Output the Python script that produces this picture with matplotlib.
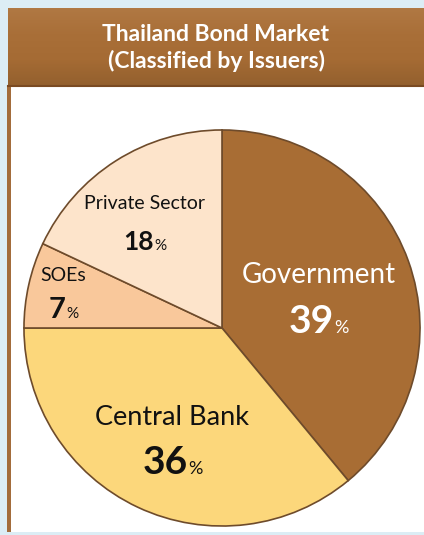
import numpy as np
import matplotlib
matplotlib.use('Agg')
import matplotlib.pyplot as plt
from matplotlib.patches import Rectangle
from matplotlib.offsetbox import TextArea, HPacker, AnnotationBbox

plt.rcParams['font.family'] = ['Lato', 'DejaVu Sans']

# issuer shares, clockwise from 12 o'clock
issuers = ['Government', 'Central Bank', 'SOEs', 'Private Sector']
shares = [39, 36, 7, 18]
colors = ['#a86d34', '#fcd77b', '#f9c89b', '#fde4cb']
label_colors = ['white', '#111111', '#111111', '#111111']
title = 'Thailand Bond Market\n(Classified by Issuers)'

# label styling / placement inside each wedge
name_sizes = [20, 19.5, 14, 14]
num_sizes = [28, 28, 21, 19]
pct_sizes = [13, 13, 11, 11]
label_radius = [0.512, 0.618, 0.82, 0.66]
label_nudge = [-2.8, 1.3, 0.0, 3.8]      # degrees off the wedge mid-angle
half_gap = [16.5, 16.2, 12.4, 14.0]      # points between name / number centres and anchor

W, H = 424, 535
fig = plt.figure(figsize=(W / 100, H / 100), dpi=100)
fig.patch.set_facecolor('#dcedf5')

# frame: header strip, white panel, brown left rule
bg = fig.add_axes([0, 0, 1, 1])
bg.axis('off')
bg.add_patch(Rectangle((8, 86), W - 8, H - 89, facecolor='white', edgecolor='none'))
bg.add_patch(Rectangle((7, 86), 4, H - 89, facecolor='#a36c3b', edgecolor='none'))
grad = np.linspace(0, 1, 64).reshape(-1, 1)
hdr = matplotlib.colors.LinearSegmentedColormap.from_list(
    'hdr', ['#b07843', '#a96f38', '#a56b34', '#93602e'])
bg.imshow(grad, cmap=hdr, extent=(8, W, 86, 8), aspect='auto', zorder=2)
bg.plot([8, W], [86, 86], color='#7a4a22', lw=1.5, zorder=3)
bg.text((8 + W) / 2, 48, title, ha='center', va='center', color='white',
        fontsize=16.5, fontweight='bold', linespacing=1.3, zorder=4)
bg.set_xlim(0, W)
bg.set_ylim(H, 0)

# pie: centre (222, 328) px, radius 200 px
cx, cy, r = 222, 328, 200
ax = fig.add_axes([(cx - r) / W, (H - cy - r) / H, 2 * r / W, 2 * r / H])
wedges, _ = ax.pie(shares, colors=colors, startangle=90, counterclock=False,
                   radius=1,
                   wedgeprops=dict(edgecolor='#6e4b2b', linewidth=1.2))
ax.set_xlim(-1.01, 1.01)
ax.set_ylim(-1.01, 1.01)
ax.set_aspect('equal')
ax.axis('off')

for i, w in enumerate(wedges):
    col = label_colors[i]
    mid = np.deg2rad((w.theta1 + w.theta2) / 2 + label_nudge[i])
    x, y = label_radius[i] * np.cos(mid), label_radius[i] * np.sin(mid)
    name_box = TextArea(issuers[i], textprops=dict(color=col, fontsize=name_sizes[i]))
    num_box = HPacker(children=[
        TextArea(str(shares[i]), textprops=dict(color=col, fontsize=num_sizes[i],
                                                fontweight='bold')),
        TextArea('%', textprops=dict(color=col, fontsize=pct_sizes[i])),
    ], align='baseline', pad=0, sep=0)
    ax.add_artist(AnnotationBbox(name_box, (x, y), xybox=(0, half_gap[i]),
                                 boxcoords='offset points', frameon=False, pad=0))
    ax.add_artist(AnnotationBbox(num_box, (x, y), xybox=(0, -half_gap[i]),
                                 boxcoords='offset points', frameon=False, pad=0))

fig.savefig('out.png', dpi=100, facecolor=fig.get_facecolor())
